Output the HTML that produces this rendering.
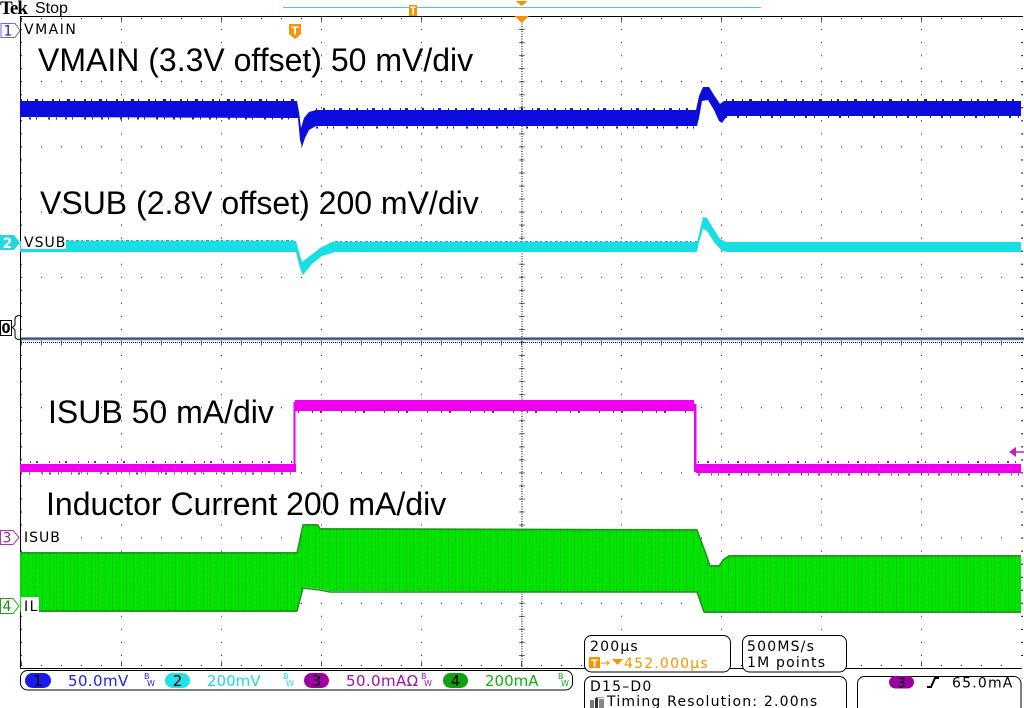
<!DOCTYPE html>
<html>
<head>
<meta charset="utf-8">
<style>
  html,body{margin:0;padding:0;background:#fff;}
  body{width:1024px;height:708px;overflow:hidden;}
  svg{display:block;}
  .big{font-family:"Liberation Sans",Arial,sans-serif;font-size:32px;fill:#000;}
  .lbl{font-family:"DejaVu Sans","Liberation Sans",sans-serif;font-size:14px;letter-spacing:1.5px;fill:#000;}
  .bar{font-family:"DejaVu Sans","Liberation Sans",sans-serif;font-size:15px;}
  .box{font-family:"DejaVu Sans","Liberation Sans",sans-serif;font-size:14px;letter-spacing:1.2px;fill:#000;}
  .bw{font-family:"DejaVu Sans",sans-serif;font-size:8px;}
</style>
</head>
<body>
<svg width="1024" height="708" viewBox="0 0 1024 708" xmlns="http://www.w3.org/2000/svg">
  <defs>
    <pattern id="grid" patternUnits="userSpaceOnUse" x="21" y="16" width="100" height="65.2">
      <rect x="0" y="0" width="1" height="1" fill="#111"/>
      <rect x="20" y="0" width="1" height="1" fill="#111"/>
      <rect x="40" y="0" width="1" height="1" fill="#111"/>
      <rect x="60" y="0" width="1" height="1" fill="#111"/>
      <rect x="80" y="0" width="1" height="1" fill="#111"/>
      <rect x="0" y="13.04" width="1" height="1" fill="#111"/>
      <rect x="0" y="26.08" width="1" height="1" fill="#111"/>
      <rect x="0" y="39.12" width="1" height="1" fill="#111"/>
      <rect x="0" y="52.16" width="1" height="1" fill="#111"/>
    </pattern>
    <pattern id="gtex" patternUnits="userSpaceOnUse" x="0" y="0" width="7" height="5">
      <rect width="7" height="5" fill="#00e600"/>
      <rect x="0" y="0" width="1" height="5" fill="#159a15" opacity="0.45"/>
      <rect x="4" y="1" width="1" height="3" fill="#159a15" opacity="0.3"/>
    </pattern>
  </defs>

  <rect width="1024" height="708" fill="#fff"/>

  <!-- graticule -->
  <rect x="21" y="16" width="1002" height="653" fill="url(#grid)"/>
  <line x1="20" y1="16.5" x2="1021" y2="16.5" stroke="#000" stroke-width="1"/>
  <line x1="21" y1="18.5" x2="1021" y2="18.5" stroke="#000" stroke-width="1" stroke-dasharray="1 19"/>
  <line x1="21" y1="20" x2="1021" y2="20" stroke="#000" stroke-width="5" stroke-dasharray="1 99" opacity="0.6"/>
  <line x1="20" y1="668.5" x2="1021" y2="668.5" stroke="#000" stroke-width="1"/>
  <line x1="21" y1="665.5" x2="1021" y2="665.5" stroke="#000" stroke-width="1" stroke-dasharray="1 19"/>
  <line x1="21" y1="663.5" x2="1021" y2="663.5" stroke="#000" stroke-width="5" stroke-dasharray="1 99" opacity="0.6"/>
  <line x1="20.5" y1="16" x2="20.5" y2="669" stroke="#000" stroke-width="1"/>
  <line x1="1022.5" y1="16" x2="1022.5" y2="668" stroke="#000" stroke-width="1" stroke-dasharray="1 12.04"/>
  <line x1="21" y1="342.5" x2="1021" y2="342.5" stroke="#000" stroke-width="1" stroke-dasharray="1 1"/>
  <line x1="21" y1="342.5" x2="1021" y2="342.5" stroke="#000" stroke-width="6" stroke-dasharray="1 19" opacity="0.6"/>
  <line x1="522" y1="16" x2="522" y2="668" stroke="#000" stroke-width="1" stroke-dasharray="1 1.5"/>
  <line x1="522" y1="16" x2="522" y2="668" stroke="#000" stroke-width="6" stroke-dasharray="1 12.04" opacity="0.55"/>

  <!-- zero reference line -->
  <rect x="21" y="337.5" width="1003" height="2" fill="#2a4878"/>
  <rect x="21" y="339.5" width="1003" height="1" fill="#9fb2cf"/>

  <!-- VMAIN (blue) -->
  <polygon fill="#0c0cdc" points="20,101 297,101 299,112 301,128 304,118 309,112 316,110 696,110 699,96 703,87 709,87 714,95 720,104 724,101 1021,101 1021,116 727,116 722,123 719,121 714,110 708,100 702,101 699,118 697,126 316,126 309,130 305,138 302,147 300,140 298,118 20,117"/>
  <line x1="20" y1="100" x2="297" y2="100" stroke="#1a1ac8" stroke-width="2" stroke-dasharray="2 5 1 7 3 4 1 9"/>
  <line x1="20" y1="118.5" x2="297" y2="118.5" stroke="#1a1ac8" stroke-width="2" stroke-dasharray="1 8 2 5 1 11 2 6"/>
  <line x1="316" y1="109" x2="696" y2="109" stroke="#1a1ac8" stroke-width="2" stroke-dasharray="1 6 2 9 1 4 3 7"/>
  <line x1="316" y1="127.5" x2="696" y2="127.5" stroke="#1a1ac8" stroke-width="2" stroke-dasharray="2 9 1 5 1 12"/>
  <line x1="726" y1="100" x2="1021" y2="100" stroke="#1a1ac8" stroke-width="2" stroke-dasharray="1 5 2 8 1 6 3 9"/>
  <line x1="726" y1="117" x2="1021" y2="117" stroke="#1a1ac8" stroke-width="2" stroke-dasharray="1 10 2 7 1 13"/>

  <!-- VSUB (cyan) -->
  <polygon fill="#18dde3" points="20,241 296,241 299,252 302,262 310,256 320,248 332,242 697,242 700,230 703,217 707,218 713,228 720,239 726,242 1021,242 1021,252 728,252 722,251 714,242 707,231 703,229 699,242 697,252 335,252 322,256 312,264 303,275 300,268 296,252 20,252"/>
  <line x1="66" y1="240.5" x2="296" y2="240.5" stroke="#0fb0b8" stroke-width="1" stroke-dasharray="3 2 2 3"/>
  <line x1="335" y1="241.5" x2="697" y2="241.5" stroke="#0fb0b8" stroke-width="1" stroke-dasharray="3 2 2 3"/>

  <!-- ISUB (magenta) -->
  <rect x="20" y="464" width="276" height="8" fill="#ee00ee"/>
  <rect x="293.5" y="402" width="2" height="70" fill="#ee00ee"/>
  <rect x="295" y="400" width="399" height="11" fill="#ee00ee"/>
  <rect x="694" y="404" width="2.5" height="68" fill="#ee00ee"/>
  <rect x="696" y="464" width="325" height="9" fill="#ee00ee"/>
  <line x1="20" y1="462" x2="293" y2="462" stroke="#b000b0" stroke-width="2" stroke-dasharray="1 9 1 5 2 11"/>
  <line x1="20" y1="473.5" x2="293" y2="473.5" stroke="#b000b0" stroke-width="2" stroke-dasharray="2 7 1 12 1 6"/>
  <line x1="298" y1="412" x2="692" y2="412" stroke="#b000b0" stroke-width="2" stroke-dasharray="1 13 1 7 2 19"/>
  <line x1="698" y1="462" x2="1021" y2="462" stroke="#b000b0" stroke-width="2" stroke-dasharray="1 8 2 6 1 12"/>
  <line x1="698" y1="474.5" x2="1021" y2="474.5" stroke="#b000b0" stroke-width="2" stroke-dasharray="2 11 1 6 1 9"/>
  <polygon points="1009,452 1016,447 1016,457" fill="#c020c0"/>
  <line x1="1016" y1="452" x2="1024" y2="452" stroke="#c020c0" stroke-width="1.5"/>

  <!-- Inductor current (green) -->
  <polygon fill="url(#gtex)" points="20,552 297,552 303,524 318,524 320,528 697,529 706,553 710,565 719,565 723,559 729,555 1021,555 1021,613 704,613 697,592 330,591 320,589 303,587 297,612 20,612"/>
  <polyline fill="none" stroke="#2a8a2a" stroke-width="1.5" points="20,553 297,553 303,525 318,525 320,529 697,530 706,554 710,566 719,566 723,560 729,556 1021,556"/>
  <polyline fill="none" stroke="#2a8a2a" stroke-width="1.5" points="20,611 297,611 303,588 320,590 330,592 697,592 704,612 1021,612"/>

  <!-- label background boxes -->
  <rect x="21" y="233" width="45" height="16" fill="#fff"/>
  <rect x="21" y="528" width="41" height="17" fill="#fff"/>
  <rect x="21" y="597" width="18" height="15" fill="#fff"/>

  <text class="lbl" x="24" y="34">VMAIN</text>
  <text class="lbl" x="24" y="247" style="letter-spacing:1px">VSUB</text>
  <text class="lbl" x="24" y="542" style="letter-spacing:1px">ISUB</text>
  <text class="lbl" x="24" y="611">IL</text>

  <!-- channel markers -->
  <polygon points="1,23.5 15,23.5 20,30.5 15,37.5 1,37.5" fill="#fff" stroke="#6a6ae0" stroke-width="1"/>
  <text x="8" y="35.5" text-anchor="middle" font-family="DejaVu Sans, sans-serif" font-size="14" fill="#1a1ae0">1</text>
  <polygon points="0,235 14,235 20,242.5 14,250 0,250" fill="#22d8e0"/>
  <text x="7.5" y="248" text-anchor="middle" font-family="DejaVu Sans, sans-serif" font-size="14" font-weight="bold" fill="#fff">2</text>
  <polygon points="0.5,530.5 13,530.5 19,537.5 13,544.5 0.5,544.5" fill="#fff" stroke="#b030b0" stroke-width="1"/>
  <text x="7" y="542.5" text-anchor="middle" font-family="DejaVu Sans, sans-serif" font-size="14" fill="#a020a0">3</text>
  <polygon points="0.5,598.5 13,598.5 19,606 13,613.5 0.5,613.5" fill="#fff" stroke="#20a020" stroke-width="1"/>
  <text x="7" y="611" text-anchor="middle" font-family="DejaVu Sans, sans-serif" font-size="14" fill="#109010">4</text>
  <rect x="0.5" y="320.5" width="11" height="15" fill="#fff" stroke="#000" stroke-width="1"/>
  <text x="6" y="333" text-anchor="middle" font-family="DejaVu Sans, sans-serif" font-size="13" font-weight="bold" fill="#000">0</text>
  <path d="M20,315.5 Q15,315.5 15,319 L15,325 L12.5,327.5 L15,330 L15,336 Q15,339.5 20,339.5" fill="none" stroke="#000" stroke-width="1"/>

  <!-- big annotations -->
  <text class="big" x="38" y="71">VMAIN (3.3V offset) 50 mV/div</text>
  <text class="big" x="40" y="214">VSUB (2.8V offset) 200 mV/div</text>
  <text class="big" x="48" y="423">ISUB 50 mA/div</text>
  <text class="big" x="46" y="515">Inductor Current 200 mA/div</text>

  <!-- top status -->
  <text x="0" y="14" font-family="Liberation Serif, serif" font-weight="bold" font-size="19" letter-spacing="-1" fill="#000">Tek</text>
  <text x="35" y="13" font-family="Liberation Sans, sans-serif" font-size="16" fill="#000">Stop</text>
  <line x1="283" y1="7.5" x2="761" y2="7.5" stroke="#40d0d4" stroke-width="1"/>
  <rect x="409" y="5" width="8" height="11" fill="#f59400"/>
  <rect x="410.5" y="6.5" width="5" height="1.5" fill="#fff"/>
  <rect x="412.2" y="6.5" width="1.6" height="8" fill="#fff"/>
  <polygon points="515.5,1 528,1 521.7,6" fill="#f59400"/>
  <polygon points="514.5,16 529,16 521.7,23" fill="#f59400"/>
  <path d="M289,24 H301 V34 L295,39 L289,34 Z" fill="#f59400"/>
  <text x="295" y="34.5" text-anchor="middle" font-family="DejaVu Sans, sans-serif" font-size="11" font-weight="bold" fill="#fff">T</text>

  <!-- bottom channel bar -->
  <rect x="20.5" y="670.5" width="552" height="19.5" rx="7" fill="#fff" stroke="#000" stroke-width="1"/>
  <rect x="25" y="673" width="26" height="15" rx="7.5" fill="#1a1aee"/>
  <text class="bar" x="38" y="686" text-anchor="middle" fill="#000">1</text>
  <text class="bar" x="68" y="686" fill="#2020ee" letter-spacing="0.4">50.0mV</text>
  <text class="bw" x="144" y="679" fill="#2020ee">B</text><text class="bw" x="147" y="686" fill="#2020ee">W</text>

  <rect x="165" y="673" width="25" height="15" rx="7.5" fill="#22e0e8"/>
  <text class="bar" x="177.5" y="686" text-anchor="middle" fill="#000">2</text>
  <text class="bar" x="207" y="686" fill="#20d8e0">200mV</text>
  <text class="bw" x="283" y="679" fill="#20d8e0">B</text><text class="bw" x="286" y="686" fill="#20d8e0">W</text>

  <rect x="304" y="673" width="25" height="15" rx="7.5" fill="#a000a0"/>
  <text class="bar" x="316.5" y="686" text-anchor="middle" fill="#000">3</text>
  <text class="bar" x="346" y="686" fill="#a010b0" letter-spacing="0.4">50.0mAΩ</text>
  <text class="bw" x="421" y="679" fill="#a010b0">B</text><text class="bw" x="424" y="686" fill="#a010b0">W</text>

  <rect x="443" y="673" width="25" height="15" rx="7.5" fill="#10a010"/>
  <text class="bar" x="455.5" y="686" text-anchor="middle" fill="#000">4</text>
  <text class="bar" x="485" y="686" fill="#10b010">200mA</text>
  <text class="bw" x="558" y="679" fill="#10b010">B</text><text class="bw" x="561" y="686" fill="#10b010">W</text>

  <!-- time box -->
  <rect x="584.5" y="635.5" width="146" height="36.5" rx="7" fill="#fff" stroke="#000" stroke-width="1"/>
  <text class="box" x="590" y="651">200µs</text>
  <rect x="589" y="657" width="11" height="11" fill="#f59400"/>
  <text x="594.5" y="666.5" text-anchor="middle" font-family="DejaVu Sans, sans-serif" font-size="10" font-weight="bold" fill="#fff">T</text>
  <text x="600" y="667" font-family="DejaVu Sans, sans-serif" font-size="12" fill="#f59400">→</text>
  <polygon points="612,659 623,659 617.5,665" fill="#f59400"/>
  <text class="box" x="624" y="668" style="fill:#f59400;letter-spacing:1.2px">452.000µs</text>

  <!-- sample box -->
  <rect x="742.5" y="635.5" width="104" height="36.5" rx="7" fill="#fff" stroke="#000" stroke-width="1"/>
  <text class="box" x="747" y="651">500MS/s</text>
  <text class="box" x="747" y="667">1M points</text>

  <!-- digital box -->
  <rect x="584.5" y="676.5" width="262" height="40" rx="7" fill="#fff" stroke="#000" stroke-width="1"/>
  <text class="box" x="590" y="691">D15–D0</text>
  <rect x="590" y="700" width="4" height="8" fill="#777"/>
  <rect x="595" y="698" width="3" height="10" fill="#333"/>
  <rect x="599" y="699" width="5" height="9" fill="#888"/>
  <rect x="596" y="697" width="8" height="1" fill="#6c6"/>
  <text class="box" x="607" y="706">Timing Resolution: 2.00ns</text>

  <!-- trigger box -->
  <rect x="857.5" y="676.5" width="163.5" height="40" rx="7" fill="#fff" stroke="#000" stroke-width="1"/>
  <rect x="889" y="676" width="25" height="12.5" rx="6.2" fill="#9a00a0"/>
  <text x="901.5" y="687.5" text-anchor="middle" font-family="DejaVu Sans, sans-serif" font-size="13" fill="#000">3</text>
  <path d="M927,687 H931 L935,678 H939" fill="none" stroke="#000" stroke-width="2"/>
  <text class="box" x="952" y="687.5">65.0mA</text>
</svg>
</body>
</html>
